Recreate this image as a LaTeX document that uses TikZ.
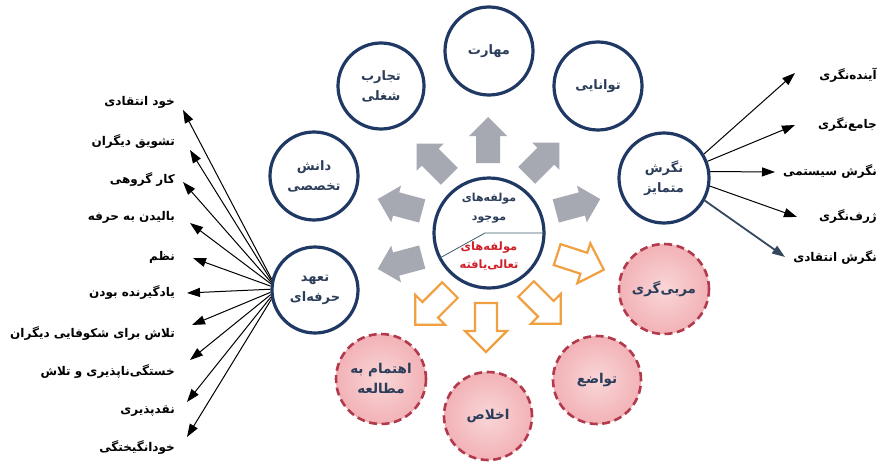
\documentclass[tikz,border=0pt]{standalone}
\usepackage{fontspec}
\usetikzlibrary{arrows.meta}
\TeXXeTstate=1
\newfontfamily\fa[Script=Arabic,BoldFont={DejaVu Sans Bold}]{DejaVu Sans}
\newcommand\prs[1]{\beginR#1\endR}
\definecolor{cnavy}{HTML}{1F3864}
\definecolor{ctext}{HTML}{2C3D5A}
\definecolor{cpinkin}{HTML}{F9D6D8}
\definecolor{cpinkout}{HTML}{F2B2B6}
\definecolor{cpinkline}{HTML}{B23A4C}
\definecolor{cgray}{HTML}{A6A9B1}
\definecolor{corange}{HTML}{F0A040}
\definecolor{cred}{HTML}{D0202A}
\definecolor{cslate}{HTML}{34495E}
\definecolor{cdiv}{HTML}{3E5B6E}
\tikzset{
  bluecirc/.style={circle, draw=cnavy, line width=3.2pt, fill=white, inner sep=0pt,
    text=ctext, font=\fa\bfseries\fontsize{13}{20}\selectfont, align=center},
  pinkcirc/.style={circle, draw=cpinkline, line width=2.6pt, dash pattern=on 8pt off 4.5pt,
    inner color=cpinkin, outer color=cpinkout, inner sep=0pt,
    text=ctext, font=\fa\bfseries\fontsize{13.5}{20}\selectfont, align=center},
  lbl/.style={font=\fa\bfseries\fontsize{12}{14}\selectfont, text=black, inner sep=0pt},
  arr/.style={-{Triangle[length=13pt,width=9pt]}, line width=1pt, black},
  garrow/.pic={\fill[cgray] (-23,-12) -- (4,-12) -- (4,-19) -- (23,0) -- (4,19) -- (4,12) -- (-23,12) -- cycle;},
  oarrow/.pic={\draw[corange, line width=2.2pt, fill=white, line join=miter] (-24,-11) -- (4,-11) -- (4,-21) -- (25,0) -- (4,21) -- (4,11) -- (-24,11) -- cycle;}
}
\begin{document}
\begin{tikzpicture}[x=1pt,y=-1pt]
\useasboundingbox[fill=white] (0,0) rectangle (883,463);

% block arrows
\pic[rotate=90]  at (488,140) {garrow};
\pic[rotate=135] at (433,160) {garrow};
\pic[rotate=45]  at (543,159) {garrow};
\pic[rotate=165] at (400,205) {garrow};
\pic[rotate=15]  at (578,205) {garrow};
\pic[rotate=195] at (400,263) {garrow};
\pic[rotate=-18] at (580,262) {oarrow};
\pic[rotate=-45] at (543,306) {oarrow};
\pic[rotate=-90] at (486,327) {oarrow};
\pic[rotate=225] at (433,307) {oarrow};

% blue circles
\node[bluecirc, minimum size=88pt] (maharat) at (489,51) {\prs{مهارت}};
\node[bluecirc, minimum size=86pt] (tajarob) at (381,86) {\prs{تجارب}\\\prs{شغلی}};
\node[bluecirc, minimum size=88pt] (tavanaei) at (598,86) {\prs{توانایی}};
\node[bluecirc, minimum size=88pt] (danesh) at (314,176) {\prs{دانش}\\\prs{تخصصی}};
\node[bluecirc, minimum size=90pt] (negaresh) at (664,178) {\prs{نگرش}\\\prs{متمایز}};
\node[bluecirc, minimum size=86pt] (tahod) at (315,290) {\prs{تعهد}\\\prs{حرفه‌ای}};

% centre circle
\node[bluecirc, minimum size=110pt] (center) at (489,233) {};
\coordinate (bend) at (485,233);
\draw[cdiv, line width=0.8pt] (center.207) -- (bend) -- (center.east);
\node[text=ctext, font=\fa\bfseries\fontsize{11}{19}\selectfont, align=center] (cur) at (489,208) {\prs{مولفه‌های}\\\prs{موجود}};
\node[text=cred, font=\fa\bfseries\fontsize{11.5}{18}\selectfont, align=center] (adv) at (489,256) {\prs{مولفه‌های}\\\prs{تعالی‌یافته}};

% pink circles
\node[pinkcirc, minimum size=90pt] (morabi) at (664,289) {\prs{مربی‌گری}};
\node[pinkcirc, minimum size=88pt] (tavazo) at (597,380) {\prs{تواضع}};
\node[pinkcirc, minimum size=88pt] (ekhlas) at (488,416) {\prs{اخلاص}};
\node[pinkcirc, minimum size=90pt] (ehtemam) at (381,379) {\prs{اهتمام به}\\\prs{مطالعه}};

% left labels
\node[lbl, anchor=east] (l1) at (175,102) {\prs{خود انتقادی}};
\node[lbl, anchor=east] (l2) at (175,142) {\prs{تشویق دیگران}};
\node[lbl, anchor=east] (l3) at (175,180) {\prs{کار گروهی}};
\node[lbl, anchor=east] (l4) at (175,217) {\prs{بالیدن به حرفه}};
\node[lbl, anchor=east] (l5) at (175,257) {\prs{نظم}};
\node[lbl, anchor=east] (l6) at (175,293) {\prs{یادگیرنده بودن}};
\node[lbl, anchor=east] (l7) at (175,334) {\prs{تلاش برای شکوفایی دیگران}};
\node[lbl, anchor=east] (l8) at (175,372) {\prs{خستگی‌ناپذیری و تلاش}};
\node[lbl, anchor=east] (l9) at (175,411) {\prs{نقدپذیری}};
\node[lbl, anchor=east] (l10) at (175,448) {\prs{خودانگیختگی}};

\coordinate (t1) at (183,110);
\coordinate (t2) at (190,150);
\coordinate (t3) at (183,182);
\coordinate (t4) at (190,223);
\coordinate (t5) at (193,258);
\coordinate (t6) at (187,293);
\coordinate (t7) at (192,325);
\coordinate (t8) at (190,360);
\coordinate (t9) at (187,402);
\coordinate (t10) at (187,437);

\draw[arr] (tahod.166) -- (t1);
\draw[arr] (tahod.168) -- (t2);
\draw[arr] (tahod.170) -- (t3);
\draw[arr] (tahod.172) -- (t4);
\draw[arr] (tahod.175) -- (t5);
\draw[arr] (tahod.179) -- (t6);
\draw[arr] (tahod.183) -- (t7);
\draw[arr] (tahod.186) -- (t8);
\draw[arr] (tahod.189) -- (t9);
\draw[arr] (tahod.192) -- (t10);

% right labels
\node[lbl, anchor=east] (r1) at (877,75) {\prs{آینده‌نگری}};
\node[lbl, anchor=east] (r2) at (877,125) {\prs{جامع‌نگری}};
\node[lbl, anchor=east] (r3) at (877,172) {\prs{نگرش سیستمی}};
\node[lbl, anchor=east] (r4) at (877,217) {\prs{ژرف‌نگری}};
\node[lbl, anchor=east] (r5) at (877,258) {\prs{نگرش انتقادی}};

\coordinate (s1) at (795,73);
\coordinate (s2) at (795,125);
\coordinate (s3) at (775,172);
\coordinate (s4) at (797,217);
\coordinate (s5) at (785,257);

\draw[arr] (negaresh.31) -- (s1);
\draw[arr] (negaresh.21) -- (s2);
\draw[arr] (negaresh.8) -- (s3);
\draw[arr] (negaresh.-10) -- (s4);
\draw[arr, cslate, line width=1.8pt] (negaresh.-29) -- (s5);
\end{tikzpicture}
\end{document}
